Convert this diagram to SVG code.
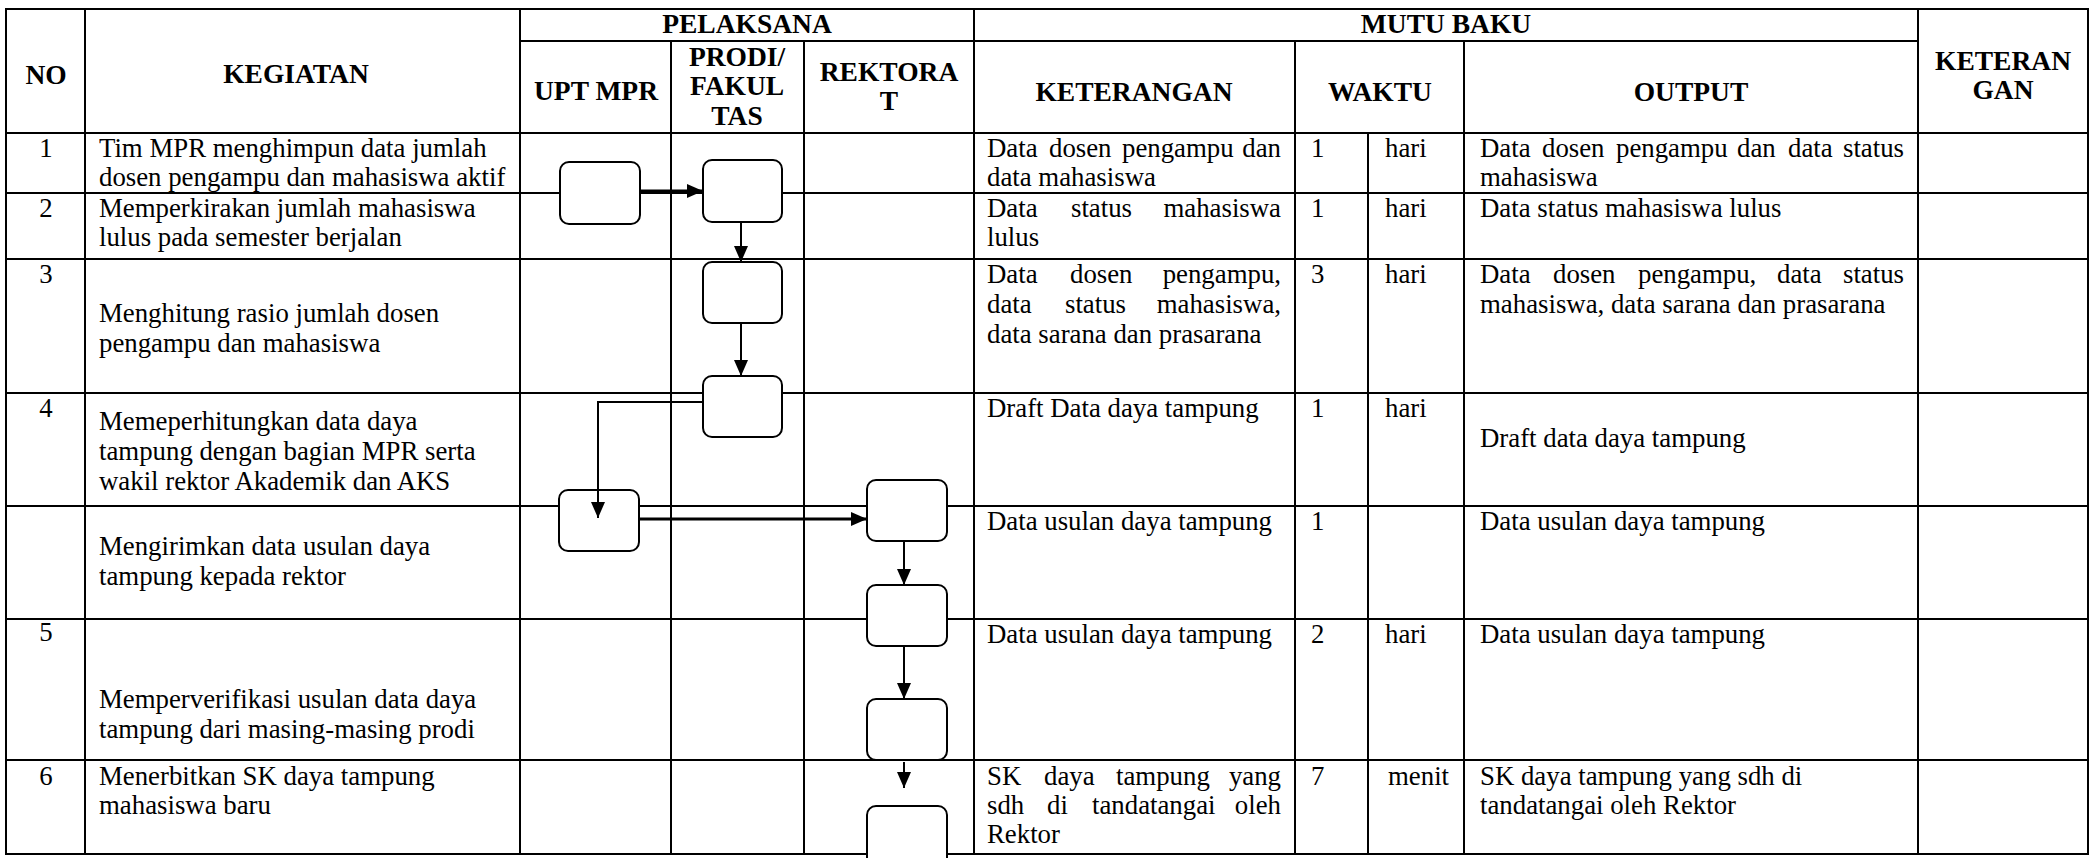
<svg xmlns="http://www.w3.org/2000/svg" width="2090" height="858" viewBox="0 0 2090 858">
<style>
.g line{stroke:#000;stroke-width:2;stroke-linecap:square}
text{font-family:"Liberation Serif","Times New Roman",serif;font-size:26.8px;fill:#000}
.h{font-weight:bold;text-anchor:middle;font-size:27.5px}
.c{text-anchor:middle}
.e{text-anchor:end}
.box{fill:#fff;stroke:#000;stroke-width:2}
.con{fill:none;stroke:#000;stroke-width:2}
.thick{stroke-width:3}
</style>
<defs>
<marker id="ah" markerUnits="userSpaceOnUse" markerWidth="16" markerHeight="14" refX="16" refY="7" orient="auto">
<path d="M0,0 L16,7 L0,14 z" fill="#000"/>
</marker>
</defs>
<rect width="2090" height="858" fill="#fff"/>
<g id="grid" class="g">
<line x1="6" y1="9" x2="2088" y2="9"/>
<line x1="520" y1="41" x2="1918" y2="41"/>
<line x1="6" y1="133" x2="2088" y2="133"/>
<line x1="6" y1="193" x2="2088" y2="193"/>
<line x1="6" y1="259" x2="2088" y2="259"/>
<line x1="6" y1="393" x2="2088" y2="393"/>
<line x1="6" y1="506" x2="2088" y2="506"/>
<line x1="6" y1="619" x2="2088" y2="619"/>
<line x1="6" y1="760" x2="2088" y2="760"/>
<line x1="6" y1="854" x2="2088" y2="854"/>
<line x1="6" y1="9" x2="6" y2="854"/>
<line x1="85" y1="9" x2="85" y2="854"/>
<line x1="520" y1="9" x2="520" y2="854"/>
<line x1="671" y1="41" x2="671" y2="854"/>
<line x1="804" y1="41" x2="804" y2="854"/>
<line x1="974" y1="9" x2="974" y2="854"/>
<line x1="1295" y1="41" x2="1295" y2="854"/>
<line x1="1368" y1="133" x2="1368" y2="854"/>
<line x1="1464" y1="41" x2="1464" y2="854"/>
<line x1="1918" y1="9" x2="1918" y2="854"/>
<line x1="2088" y1="9" x2="2088" y2="854"/>
</g>
<g id="header">
<text class="h" x="747" y="33">PELAKSANA</text>
<text class="h" x="1446" y="33">MUTU BAKU</text>
<text class="h" x="46" y="84">NO</text>
<text class="h" x="296" y="83">KEGIATAN</text>
<text class="h" x="596" y="100">UPT MPR</text>
<text class="h" x="737" y="66">PRODI/</text>
<text class="h" x="737" y="95">FAKUL</text>
<text class="h" x="737" y="125">TAS</text>
<text class="h" x="889" y="81">REKTORA</text>
<text class="h" x="889" y="110">T</text>
<text class="h" x="1134" y="101">KETERANGAN</text>
<text class="h" x="1380" y="101">WAKTU</text>
<text class="h" x="1691" y="101">OUTPUT</text>
<text class="h" x="2003" y="70">KETERAN</text>
<text class="h" x="2003" y="99">GAN</text>
</g>
<g id="row1">
<text class="c" x="46" y="157">1</text>
<text x="99" y="157">Tim MPR menghimpun data jumlah</text>
<text x="99" y="186">dosen pengampu dan mahasiswa aktif</text>
<text y="157"><tspan x="987">Data</tspan><tspan x="1049">dosen</tspan><tspan x="1122">pengampu</tspan><tspan x="1281" class="e">dan</tspan></text>
<text x="987" y="186">data mahasiswa</text>
<text x="1311" y="157">1</text>
<text x="1385" y="157">hari</text>
<text y="157"><tspan x="1480">Data</tspan><tspan x="1542">dosen</tspan><tspan x="1616">pengampu</tspan><tspan x="1737">dan</tspan><tspan x="1788">data</tspan><tspan x="1904" class="e">status</tspan></text>
<text x="1480" y="186">mahasiswa</text>
</g>
<g id="row2">
<text class="c" x="46" y="217">2</text>
<text x="99" y="217">Memperkirakan jumlah mahasiswa</text>
<text x="99" y="246">lulus pada semester berjalan</text>
<text y="217"><tspan x="987">Data</tspan><tspan x="1071">status</tspan><tspan x="1281" class="e">mahasiswa</tspan></text>
<text x="987" y="246">lulus</text>
<text x="1311" y="217">1</text>
<text x="1385" y="217">hari</text>
<text x="1480" y="217">Data status mahasiswa lulus</text>
</g>
<g id="row3">
<text class="c" x="46" y="283">3</text>
<text x="99" y="322">Menghitung rasio jumlah dosen</text>
<text x="99" y="352">pengampu dan mahasiswa</text>
<text y="283"><tspan x="987">Data</tspan><tspan x="1070">dosen</tspan><tspan x="1281" class="e">pengampu,</tspan></text>
<text y="313"><tspan x="987">data</tspan><tspan x="1065">status</tspan><tspan x="1281" class="e">mahasiswa,</tspan></text>
<text x="987" y="343">data sarana dan prasarana</text>
<text x="1311" y="283">3</text>
<text x="1385" y="283">hari</text>
<text y="283"><tspan x="1480">Data</tspan><tspan x="1553">dosen</tspan><tspan x="1638">pengampu,</tspan><tspan x="1777">data</tspan><tspan x="1904" class="e">status</tspan></text>
<text x="1480" y="313">mahasiswa, data sarana dan prasarana</text>
</g>
<g id="row4">
<text class="c" x="46" y="417">4</text>
<text x="99" y="430">Memeperhitungkan data daya</text>
<text x="99" y="460">tampung dengan bagian MPR serta</text>
<text x="99" y="490">wakil rektor Akademik dan AKS</text>
<text x="987" y="417">Draft Data daya tampung</text>
<text x="1311" y="417">1</text>
<text x="1385" y="417">hari</text>
<text x="1480" y="447">Draft data daya tampung</text>
</g>
<g id="row4b">
<text x="99" y="555">Mengirimkan data usulan daya</text>
<text x="99" y="585">tampung kepada rektor</text>
<text x="987" y="530">Data usulan daya tampung</text>
<text x="1311" y="530">1</text>
<text x="1480" y="530">Data usulan daya tampung</text>
</g>
<g id="row5">
<text class="c" x="46" y="641">5</text>
<text x="99" y="708">Memperverifikasi usulan data daya</text>
<text x="99" y="738">tampung dari masing-masing prodi</text>
<text x="987" y="643">Data usulan daya tampung</text>
<text x="1311" y="643">2</text>
<text x="1385" y="643">hari</text>
<text x="1480" y="643">Data usulan daya tampung</text>
</g>
<g id="row6">
<text class="c" x="46" y="785">6</text>
<text x="99" y="785">Menerbitkan SK daya tampung</text>
<text x="99" y="814">mahasiswa baru</text>
<text y="785"><tspan x="987">SK</tspan><tspan x="1044">daya</tspan><tspan x="1116">tampung</tspan><tspan x="1281" class="e">yang</tspan></text>
<text y="814"><tspan x="987">sdh</tspan><tspan x="1047">di</tspan><tspan x="1092">tandatangai</tspan><tspan x="1281" class="e">oleh</tspan></text>
<text x="987" y="843">Rektor</text>
<text x="1311" y="785">7</text>
<text x="1388" y="785">menit</text>
<text x="1480" y="785">SK daya tampung yang sdh di</text>
<text x="1480" y="814">tandatangai oleh Rektor</text>
</g>
<g id="boxA"><rect class="box" x="560" y="162" width="80" height="62" rx="9"/></g>
<g id="boxB"><rect class="box" x="703" y="160" width="79" height="62" rx="9"/></g>
<g id="boxC"><rect class="box" x="703" y="262" width="79" height="61" rx="9"/></g>
<g id="boxD"><rect class="box" x="703" y="376" width="79" height="61" rx="9"/></g>
<g id="boxE"><rect class="box" x="559" y="490" width="80" height="61" rx="9"/></g>
<g id="boxF"><rect class="box" x="867" y="480" width="80" height="61" rx="9"/></g>
<g id="boxG"><rect class="box" x="867" y="585" width="80" height="61" rx="9"/></g>
<g id="boxH"><rect class="box" x="867" y="699" width="80" height="61" rx="9"/></g>
<g id="boxI"><rect class="box" x="867" y="806" width="80" height="64" rx="9"/></g>
<g id="connectors">
<line class="con thick" x1="640" y1="191" x2="703" y2="191" marker-end="url(#ah)"/>
<line class="con" x1="741" y1="222" x2="741" y2="262" marker-end="url(#ah)"/>
<line class="con" x1="741" y1="323" x2="741" y2="376" marker-end="url(#ah)"/>
<polyline class="con" points="703,402 598,402 598,518" marker-end="url(#ah)"/>
<line class="con thick" x1="639" y1="519" x2="867" y2="519" marker-end="url(#ah)"/>
<line class="con" x1="904" y1="541" x2="904" y2="585" marker-end="url(#ah)"/>
<line class="con" x1="904" y1="646" x2="904" y2="699" marker-end="url(#ah)"/>
<line class="con" x1="904" y1="762" x2="904" y2="788" marker-end="url(#ah)"/>
</g>
</svg>
